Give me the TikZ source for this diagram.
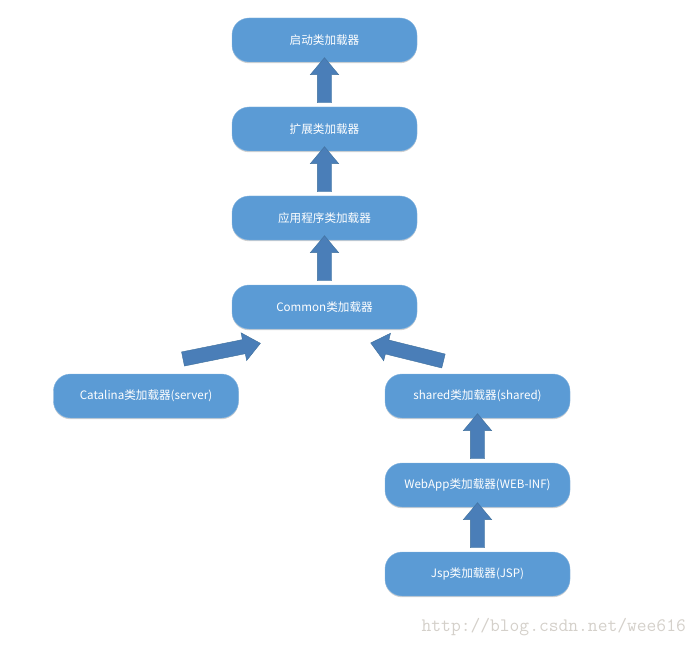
\documentclass[tikz,border=0pt]{standalone}
\usepackage{fontspec}
\newfontfamily\cjkfont{Noto Sans CJK SC}
\usetikzlibrary{arrows.meta, positioning, shapes.arrows, shadows}
\definecolor{boxblue}{RGB}{91,155,213}
\definecolor{arrowblue}{RGB}{74,126,184}
\definecolor{arrowline}{RGB}{65,113,156}
\definecolor{markgray}{RGB}{212,208,202}

\begin{document}
\begin{tikzpicture}[ node distance = 45pt and 6mm,
	loader/.style = {rectangle, rounded corners=17pt, draw=boxblue!75!white, fill=boxblue, text=white,
		minimum width=185pt, minimum height=44pt, inner sep=0pt, outer sep=0pt,
		font=\cjkfont\fontsize{11.6}{13}\selectfont,
		drop shadow={shadow xshift=0pt, shadow yshift=-1.2pt, opacity=.18, fill=black}},
	UA/.style = {% Up Arrow
		single arrow, draw=arrowline, fill=arrowblue, single arrow head extend=7pt,
		single arrow tip angle=80, inner xsep=0pt, inner ysep=7pt, outer sep=0pt,
		minimum width=0pt, minimum height=#1, sloped, allow upside down}]
\useasboundingbox (0,0) rectangle (696pt,-647pt);

\node[loader] (boot) at (324.5pt,-40pt) {启动类加载器};
\node[loader, below=of boot] (ext) {扩展类加载器};
\node[loader, below=of ext]  (app) {应用程序类加载器};
\node[loader, below=of app]  (com) {Common类加载器};
\node[loader, below=of com, xshift=-178.5pt] (cat) {Catalina类加载器(server)};
\node[loader, below=of com, xshift=153pt]    (shr) {shared类加载器(shared)};
\node[loader, below=of shr]  (web) {WebApp类加载器(WEB-INF)};
\node[loader, below=of web]  (jsp) {Jsp类加载器(JSP)};
	% arrows between nodes
\path (ext.north) -- node[UA=45pt] {} (boot.south);
\path (app.north) -- node[UA=45pt] {} (ext.south);
\path (com.north) -- node[UA=45pt] {} (app.south);
\path (web.north) -- node[UA=45pt] {} (shr.south);
\path (jsp.north) -- node[UA=45pt] {} (web.south);
	% slanted arrows into Common
\path ([xshift=32pt,yshift=14pt]cat.north) -- node[UA=79pt] {} ([xshift=25pt,yshift=-15pt]com.south west);
\path ([xshift=-30pt,yshift=12pt]shr.north) -- node[UA=75pt] {} ([xshift=-42pt,yshift=-15pt]com.south east);

\node[font=\ttfamily\fontsize{19}{19}\selectfont, text=markgray, inner sep=0pt, anchor=east]
	(mark) at (686pt,-627pt) {http://blog.csdn.net/wee616};
\end{tikzpicture}
\end{document}
